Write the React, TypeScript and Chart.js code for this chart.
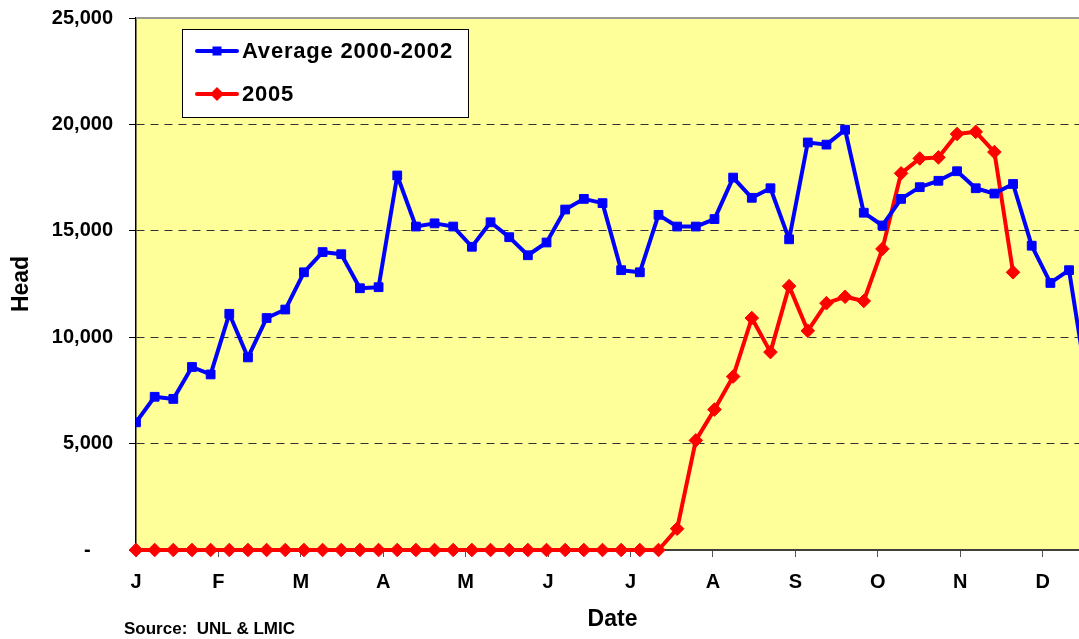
import React, { useEffect, useRef } from 'react';
import { Chart, registerables } from 'chart.js';

Chart.register(...registerables);

const FONT = '"Liberation Sans", Arial, Helvetica, sans-serif';

const monthLabels = ['J', 'F', 'M', 'A', 'M', 'J', 'J', 'A', 'S', 'O', 'N', 'D'];
const yTickValues = [0, 5000, 10000, 15000, 20000, 25000];

const seriesNames = ['Average 2000-2002', '2005'];

// weekly values (head)
const average2000to2002 = [
  6000, 7200, 7100, 8600, 8250, 11100, 9050, 10900, 11300, 13050,
  14000, 13900, 12300, 12350, 17600, 15200, 15350, 15200, 14250, 15400,
  14700, 13850, 14450, 16000, 16500, 16300, 13150, 13050, 15750, 15200,
  15200, 15550, 17500, 16550, 17000, 14600, 19150, 19050, 19750, 15850,
  15250, 16500, 17050, 17350, 17800, 17000, 16750, 17200, 14300, 12550,
  13150, 7600,
];

const year2005 = [
  0, 0, 0, 0, 0, 0, 0, 0, 0, 0,
  0, 0, 0, 0, 0, 0, 0, 0, 0, 0,
  0, 0, 0, 0, 0, 0, 0, 0, 0, 1000,
  5150, 6600, 8150, 10900, 9300, 12400, 10300, 11600, 11900, 11700,
  14150, 17700, 18400, 18450, 19550, 19650, 18700, 13050,
];

const toPoints = (arr: number[]) => arr.map((v, i) => ({ x: i, y: v }));

const BLUE = '#0000FF';
const RED = '#FF0000';

const chartDecor = {
  id: 'chartDecor',
  beforeDraw(chart: any) {
    const { ctx, chartArea } = chart;
    ctx.save();
    ctx.fillStyle = '#FFFF99';
    ctx.fillRect(chartArea.left, chartArea.top, chartArea.right - chartArea.left, chartArea.bottom - chartArea.top);
    ctx.restore();
  },
  beforeDatasetsDraw(chart: any) {
    const { ctx, chartArea } = chart;
    ctx.save();
    ctx.strokeStyle = '#9A9A9A';
    ctx.lineWidth = 2;
    ctx.beginPath();
    ctx.moveTo(chartArea.left, chartArea.top);
    ctx.lineTo(chartArea.right, chartArea.top);
    ctx.stroke();
    ctx.restore();
  },
  afterDatasetsDraw(chart: any) {
    const { ctx } = chart;
    ctx.save();
    // legend box
    ctx.fillStyle = '#FFFFFF';
    ctx.fillRect(182, 29, 286, 88);
    ctx.strokeStyle = '#000000';
    ctx.lineWidth = 1;
    ctx.strokeRect(182.5, 29.5, 286, 88);
    const rowsY = [51, 94];
    chart.data.datasets.forEach((ds: any, i: number) => {
      const y = rowsY[i];
      ctx.strokeStyle = ds.borderColor;
      ctx.lineWidth = 4;
      ctx.lineCap = 'round';
      ctx.beginPath();
      ctx.moveTo(197, y);
      ctx.lineTo(237, y);
      ctx.stroke();
      ctx.fillStyle = ds.borderColor;
      const cx = 217;
      if (ds.pointStyle === 'rect') {
        ctx.fillRect(cx - 4.5, y - 4.5, 9, 9);
      } else {
        ctx.beginPath();
        ctx.moveTo(cx, y - 7);
        ctx.lineTo(cx + 7, y);
        ctx.lineTo(cx, y + 7);
        ctx.lineTo(cx - 7, y);
        ctx.closePath();
        ctx.fill();
      }
      ctx.fillStyle = '#000000';
      ctx.font = `bold 22px ${FONT}`;
      try { (ctx as any).letterSpacing = '0.8px'; } catch (e) { /* ignore */ }
      ctx.textAlign = 'left';
      ctx.textBaseline = 'middle';
      ctx.fillText(ds.label, 242, y + 1);
      try { (ctx as any).letterSpacing = '0px'; } catch (e) { /* ignore */ }
    });
    // source note
    ctx.fillStyle = '#000000';
    ctx.font = `bold 17px ${FONT}`;
    ctx.textAlign = 'left';
    ctx.textBaseline = 'middle';
    ctx.fillText('Source:  UNL & LMIC', 124, 629);
    ctx.restore();
  },
};

export default function App() {
  const canvasRef = useRef<HTMLCanvasElement | null>(null);

  useEffect(() => {
    const canvas = canvasRef.current;
    if (!canvas) return;
    const chart = new Chart(canvas, {
      type: 'line',
      data: {
        datasets: [
          {
            label: seriesNames[0],
            data: toPoints(average2000to2002),
            borderColor: BLUE,
            backgroundColor: BLUE,
            borderWidth: 4,
            pointStyle: 'rect',
            pointRadius: 6.2,
            pointBorderWidth: 1,
            pointBackgroundColor: BLUE,
            pointBorderColor: BLUE,
            borderJoinStyle: 'round',
            tension: 0,
          },
          {
            label: seriesNames[1],
            data: toPoints(year2005),
            borderColor: RED,
            backgroundColor: RED,
            borderWidth: 4,
            pointStyle: 'rectRot',
            pointRadius: 6.8,
            pointBorderWidth: 1,
            pointBackgroundColor: RED,
            pointBorderColor: RED,
            borderJoinStyle: 'round',
            tension: 0,
            clip: false,
          },
        ],
      },
      options: {
        animation: false,
        responsive: false,
        devicePixelRatio: 1,
        layout: { padding: { top: 18, right: 11, left: 0, bottom: 0 } },
        plugins: {
          legend: { display: false },
          tooltip: { enabled: false },
        },
        scales: {
          x: {
            type: 'linear',
            min: 0,
            max: 51.07,
            afterBuildTicks: (s: any) => {
              s.ticks = monthLabels.map((_, k) => ({ value: (k * 53) / 12 }));
            },
            afterFit: (s: any) => {
              s.height = 89;
              s.paddingLeft = 0;
              s.paddingRight = 0;
            },
            grid: {
              drawOnChartArea: false,
              drawTicks: true,
              tickLength: 7,
              tickColor: '#555555',
              tickWidth: 1,
            },
            border: { color: '#404040', width: 2 },
            ticks: {
              callback: (_v: any, i: number) => monthLabels[i],
              font: { family: FONT, size: 20, weight: 'bold' },
              color: '#000000',
              padding: 13,
              maxRotation: 0,
              autoSkip: false,
            },
            title: {
              display: true,
              text: 'Date',
              font: { family: FONT, size: 23, weight: 'bold' },
              color: '#000000',
              padding: { top: 0, bottom: 6 },
            },
          },
          y: {
            type: 'linear',
            min: 0,
            max: 25000,
            afterBuildTicks: (s: any) => {
              s.ticks = yTickValues.map((v) => ({ value: v }));
            },
            afterFit: (s: any) => {
              s.width = 136;
              s.paddingTop = 0;
              s.paddingBottom = 0;
            },
            grid: {
              color: (c: any) =>
                c.tick && (c.tick.value === 0 || c.tick.value === 25000) ? 'rgba(0,0,0,0)' : '#333333',
              lineWidth: 1,
              tickColor: '#000000',
              tickLength: 7,
              tickWidth: 1,
              tickBorderDash: [],
            },
            border: { color: '#000000', width: 1.5, dash: [8, 6] },
            ticks: {
              callback: (v: any) => (Number(v) === 0 ? '-    ' : Number(v).toLocaleString('en-US')),
              font: { family: FONT, size: 20, weight: 'bold' },
              color: '#000000',
              padding: 16,
            },
            title: {
              display: true,
              text: 'Head',
              font: { family: FONT, size: 23, weight: 'bold' },
              color: '#000000',
              padding: { top: 8, bottom: 0 },
            },
          },
        },
      } as any,
      plugins: [chartDecor],
    });
    return () => chart.destroy();
  }, []);

  return (
    <div
      style={{
        position: 'fixed',
        left: 0,
        top: 0,
        width: 1079,
        height: 639,
        overflow: 'hidden',
        background: '#FFFFFF',
      }}
    >
      <canvas ref={canvasRef} width={1100} height={639} style={{ display: 'block', width: 1100, height: 639 }} />
    </div>
  );
}
